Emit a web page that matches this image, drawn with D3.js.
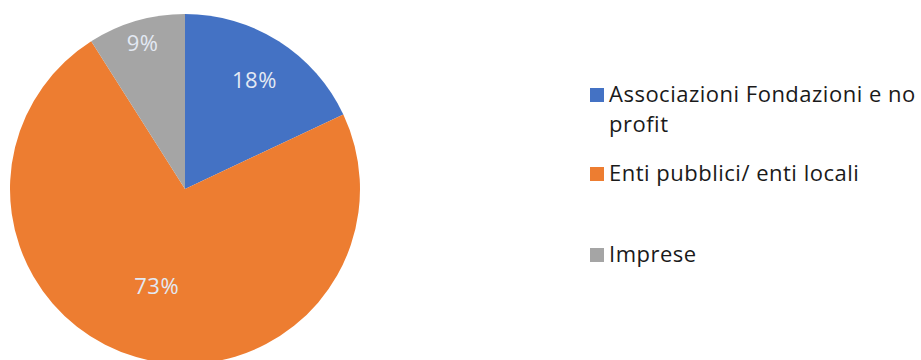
<!DOCTYPE html>
<html>
<head>
<meta charset="utf-8">
<script src="https://cdn.jsdelivr.net/npm/d3@7"></script>
<style>
  body { margin: 0; background: #fff; }
  text { font-family: "Open Sans", "Liberation Sans", sans-serif; }
</style>
</head>
<body>
<div id="chart"></div>
<script>
// data
const categories = ['Associazioni Fondazioni e no profit', 'Enti pubblici/ enti locali', 'Imprese'];
const values = [18, 73, 9];
const colors = ['#4472c4', '#ed7d31', '#a5a5a5'];
// legend lines (wrapped like the original)
const legendLines = [['Associazioni Fondazioni e no', 'profit'], ['Enti pubblici/ enti locali'], ['Imprese']];

const width = 921, height = 360;
const cx = 185, cy = 189, radius = 175;
// where each % label sits, as fraction of radius (excel "best fit")
const labelRadius = [0.74, 0.58, 0.87];

const svg = d3.select('#chart').append('svg')
  .attr('width', width)
  .attr('height', height);

const pie = d3.pie().sort(null).value(d => d);
const arcs = pie(values);
const arc = d3.arc().innerRadius(0).outerRadius(radius);

const g = svg.append('g').attr('transform', `translate(${cx}, ${cy})`);

g.selectAll('path.slice')
  .data(arcs)
  .enter().append('path')
  .attr('class', 'slice')
  .attr('d', arc)
  .attr('fill', (d, i) => colors[i]);

g.selectAll('text.pct')
  .data(arcs)
  .enter().append('text')
  .attr('class', 'pct')
  .attr('transform', (d, i) => {
    const r = radius * labelRadius[i];
    const a = (d.startAngle + d.endAngle) / 2;
    return `translate(${Math.sin(a) * r}, ${-Math.cos(a) * r})`;
  })
  .attr('text-anchor', 'middle')
  .attr('dy', '0.36em')
  .attr('fill', '#e3e9f3')
  .style('font-size', '22px')
  .style('letter-spacing', '0.5px')
  .text(d => d.data + '%');

// legend
const legendX = 590;
const legendY = [88, 167, 248];
const legend = svg.append('g');
categories.forEach((c, i) => {
  const item = legend.append('g').attr('transform', `translate(${legendX}, ${legendY[i]})`);
  item.append('rect')
    .attr('width', 14).attr('height', 14)
    .attr('fill', colors[i]);
  const t = item.append('text')
    .attr('x', 19)
    .attr('y', 14)
    .attr('fill', '#1a1a1a')
    .style('font-size', '22px')
    .style('letter-spacing', '0.5px');
  legendLines[i].forEach((line, j) => {
    t.append('tspan').attr('x', 19).attr('dy', j === 0 ? 0 : 30).text(line);
  });
});
</script>
</body>
</html>
